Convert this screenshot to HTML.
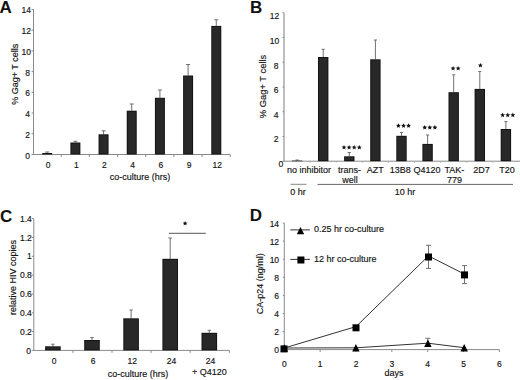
<!DOCTYPE html>
<html><head><meta charset="utf-8"><style>
html,body{margin:0;padding:0;background:#fff;}
body{width:520px;height:380px;overflow:hidden;}
svg{display:block;font-family:"Liberation Sans", sans-serif;}
</style></head><body>
<svg width="520" height="380" viewBox="0 0 520 380">
<rect width="520" height="380" fill="#fff"/>
<text x="-0.60" y="13.00" font-size="17" text-anchor="start" font-weight="bold" fill="#111">A</text>
<line x1="33.50" y1="9.46" x2="33.50" y2="154.50" stroke="#8a8a8a" stroke-width="1"/>
<line x1="31.50" y1="154.50" x2="33.50" y2="154.50" stroke="#8a8a8a" stroke-width="1"/>
<text x="29.90" y="158.50" font-size="8.5" text-anchor="end" font-weight="normal" fill="#111" stroke="#111" stroke-width="0.15">0</text>
<line x1="31.50" y1="133.78" x2="33.50" y2="133.78" stroke="#8a8a8a" stroke-width="1"/>
<text x="29.90" y="137.78" font-size="8.5" text-anchor="end" font-weight="normal" fill="#111" stroke="#111" stroke-width="0.15">2</text>
<line x1="31.50" y1="113.06" x2="33.50" y2="113.06" stroke="#8a8a8a" stroke-width="1"/>
<text x="29.90" y="117.06" font-size="8.5" text-anchor="end" font-weight="normal" fill="#111" stroke="#111" stroke-width="0.15">4</text>
<line x1="31.50" y1="92.34" x2="33.50" y2="92.34" stroke="#8a8a8a" stroke-width="1"/>
<text x="29.90" y="96.34" font-size="8.5" text-anchor="end" font-weight="normal" fill="#111" stroke="#111" stroke-width="0.15">6</text>
<line x1="31.50" y1="71.62" x2="33.50" y2="71.62" stroke="#8a8a8a" stroke-width="1"/>
<text x="29.90" y="75.62" font-size="8.5" text-anchor="end" font-weight="normal" fill="#111" stroke="#111" stroke-width="0.15">8</text>
<line x1="31.50" y1="50.90" x2="33.50" y2="50.90" stroke="#8a8a8a" stroke-width="1"/>
<text x="31.00" y="54.90" font-size="8.5" text-anchor="end" font-weight="normal" fill="#111" stroke="#111" stroke-width="0.15">10</text>
<line x1="31.50" y1="30.18" x2="33.50" y2="30.18" stroke="#8a8a8a" stroke-width="1"/>
<text x="31.00" y="34.18" font-size="8.5" text-anchor="end" font-weight="normal" fill="#111" stroke="#111" stroke-width="0.15">12</text>
<line x1="31.50" y1="9.46" x2="33.50" y2="9.46" stroke="#8a8a8a" stroke-width="1"/>
<text x="31.00" y="13.46" font-size="8.5" text-anchor="end" font-weight="normal" fill="#111" stroke="#111" stroke-width="0.15">14</text>
<line x1="33.50" y1="154.50" x2="230.26" y2="154.50" stroke="#8a8a8a" stroke-width="1"/>
<line x1="61.18" y1="154.50" x2="61.18" y2="157.00" stroke="#8a8a8a" stroke-width="1"/>
<line x1="89.36" y1="154.50" x2="89.36" y2="157.00" stroke="#8a8a8a" stroke-width="1"/>
<line x1="117.54" y1="154.50" x2="117.54" y2="157.00" stroke="#8a8a8a" stroke-width="1"/>
<line x1="145.72" y1="154.50" x2="145.72" y2="157.00" stroke="#8a8a8a" stroke-width="1"/>
<line x1="173.90" y1="154.50" x2="173.90" y2="157.00" stroke="#8a8a8a" stroke-width="1"/>
<line x1="202.08" y1="154.50" x2="202.08" y2="157.00" stroke="#8a8a8a" stroke-width="1"/>
<line x1="230.26" y1="154.50" x2="230.26" y2="157.00" stroke="#8a8a8a" stroke-width="1"/>
<line x1="47.20" y1="152.00" x2="47.20" y2="153.00" stroke="#707070" stroke-width="1"/>
<line x1="45.20" y1="152.00" x2="49.20" y2="152.00" stroke="#707070" stroke-width="1"/>
<rect x="42.20" y="153.00" width="10.00" height="1.50" fill="#141414"/>
<text x="48.10" y="168.10" font-size="8.5" text-anchor="middle" font-weight="normal" fill="#111" stroke="#111" stroke-width="0.15">0</text>
<line x1="75.38" y1="141.30" x2="75.38" y2="142.50" stroke="#707070" stroke-width="1"/>
<line x1="73.38" y1="141.30" x2="77.38" y2="141.30" stroke="#707070" stroke-width="1"/>
<rect x="70.38" y="142.50" width="10.00" height="12.00" fill="#141414"/>
<rect x="71.38" y="143.50" width="8.00" height="10.00" fill="#282828"/>
<text x="76.28" y="168.10" font-size="8.5" text-anchor="middle" font-weight="normal" fill="#111" stroke="#111" stroke-width="0.15">1</text>
<line x1="103.56" y1="130.80" x2="103.56" y2="134.30" stroke="#707070" stroke-width="1"/>
<line x1="101.56" y1="130.80" x2="105.56" y2="130.80" stroke="#707070" stroke-width="1"/>
<rect x="98.56" y="134.30" width="10.00" height="20.20" fill="#141414"/>
<rect x="99.56" y="135.30" width="8.00" height="18.20" fill="#282828"/>
<text x="104.46" y="168.10" font-size="8.5" text-anchor="middle" font-weight="normal" fill="#111" stroke="#111" stroke-width="0.15">2</text>
<line x1="131.74" y1="104.00" x2="131.74" y2="110.70" stroke="#707070" stroke-width="1"/>
<line x1="129.74" y1="104.00" x2="133.74" y2="104.00" stroke="#707070" stroke-width="1"/>
<rect x="126.74" y="110.70" width="10.00" height="43.80" fill="#141414"/>
<rect x="127.74" y="111.70" width="8.00" height="41.80" fill="#282828"/>
<text x="132.64" y="168.10" font-size="8.5" text-anchor="middle" font-weight="normal" fill="#111" stroke="#111" stroke-width="0.15">4</text>
<line x1="159.92" y1="90.00" x2="159.92" y2="97.80" stroke="#707070" stroke-width="1"/>
<line x1="157.92" y1="90.00" x2="161.92" y2="90.00" stroke="#707070" stroke-width="1"/>
<rect x="154.92" y="97.80" width="10.00" height="56.70" fill="#141414"/>
<rect x="155.92" y="98.80" width="8.00" height="54.70" fill="#282828"/>
<text x="160.82" y="168.10" font-size="8.5" text-anchor="middle" font-weight="normal" fill="#111" stroke="#111" stroke-width="0.15">6</text>
<line x1="188.10" y1="64.50" x2="188.10" y2="75.50" stroke="#707070" stroke-width="1"/>
<line x1="186.10" y1="64.50" x2="190.10" y2="64.50" stroke="#707070" stroke-width="1"/>
<rect x="183.10" y="75.50" width="10.00" height="79.00" fill="#141414"/>
<rect x="184.10" y="76.50" width="8.00" height="77.00" fill="#282828"/>
<text x="189.00" y="168.10" font-size="8.5" text-anchor="middle" font-weight="normal" fill="#111" stroke="#111" stroke-width="0.15">9</text>
<line x1="216.28" y1="19.80" x2="216.28" y2="25.90" stroke="#707070" stroke-width="1"/>
<line x1="214.28" y1="19.80" x2="218.28" y2="19.80" stroke="#707070" stroke-width="1"/>
<rect x="211.28" y="25.90" width="10.00" height="128.60" fill="#141414"/>
<rect x="212.28" y="26.90" width="8.00" height="126.60" fill="#282828"/>
<text x="217.18" y="168.10" font-size="8.5" text-anchor="middle" font-weight="normal" fill="#111" stroke="#111" stroke-width="0.15">12</text>
<text x="139.90" y="179.50" font-size="9" text-anchor="middle" font-weight="normal" fill="#111" stroke="#111" stroke-width="0.15">co-culture (hrs)</text>
<text x="18.50" y="74.30" font-size="9" text-anchor="middle" font-weight="normal" fill="#111" stroke="#111" stroke-width="0.15" transform="rotate(-90 18.50 74.30)">% Gag+ T cells</text>
<text x="250.00" y="13.20" font-size="17" text-anchor="start" font-weight="bold" fill="#111">B</text>
<line x1="284.00" y1="12.70" x2="284.00" y2="161.20" stroke="#a8a8a8" stroke-width="1.5"/>
<line x1="282.50" y1="161.20" x2="284.00" y2="161.20" stroke="#8a8a8a" stroke-width="1"/>
<text x="283.30" y="166.80" font-size="8.5" text-anchor="end" font-weight="normal" fill="#111" stroke="#111" stroke-width="0.15">0</text>
<line x1="282.50" y1="136.45" x2="284.00" y2="136.45" stroke="#8a8a8a" stroke-width="1"/>
<text x="278.60" y="142.24" font-size="8.5" text-anchor="end" font-weight="normal" fill="#111" stroke="#111" stroke-width="0.15">2</text>
<line x1="282.50" y1="111.70" x2="284.00" y2="111.70" stroke="#8a8a8a" stroke-width="1"/>
<text x="278.60" y="117.68" font-size="8.5" text-anchor="end" font-weight="normal" fill="#111" stroke="#111" stroke-width="0.15">4</text>
<line x1="282.50" y1="86.95" x2="284.00" y2="86.95" stroke="#8a8a8a" stroke-width="1"/>
<text x="278.60" y="93.12" font-size="8.5" text-anchor="end" font-weight="normal" fill="#111" stroke="#111" stroke-width="0.15">6</text>
<line x1="282.50" y1="62.20" x2="284.00" y2="62.20" stroke="#8a8a8a" stroke-width="1"/>
<text x="278.60" y="68.56" font-size="8.5" text-anchor="end" font-weight="normal" fill="#111" stroke="#111" stroke-width="0.15">8</text>
<line x1="282.50" y1="37.45" x2="284.00" y2="37.45" stroke="#8a8a8a" stroke-width="1"/>
<text x="279.30" y="44.00" font-size="8.5" text-anchor="end" font-weight="normal" fill="#111" stroke="#111" stroke-width="0.15">10</text>
<line x1="282.50" y1="12.70" x2="284.00" y2="12.70" stroke="#8a8a8a" stroke-width="1"/>
<text x="279.30" y="19.44" font-size="8.5" text-anchor="end" font-weight="normal" fill="#111" stroke="#111" stroke-width="0.15">12</text>
<line x1="284.00" y1="161.20" x2="520.00" y2="161.20" stroke="#8a8a8a" stroke-width="1"/>
<line x1="310.10" y1="161.20" x2="310.10" y2="162.70" stroke="#aaa" stroke-width="1"/>
<line x1="336.20" y1="161.20" x2="336.20" y2="162.70" stroke="#aaa" stroke-width="1"/>
<line x1="362.30" y1="161.20" x2="362.30" y2="162.70" stroke="#aaa" stroke-width="1"/>
<line x1="388.40" y1="161.20" x2="388.40" y2="162.70" stroke="#aaa" stroke-width="1"/>
<line x1="414.50" y1="161.20" x2="414.50" y2="162.70" stroke="#aaa" stroke-width="1"/>
<line x1="440.60" y1="161.20" x2="440.60" y2="162.70" stroke="#aaa" stroke-width="1"/>
<line x1="466.70" y1="161.20" x2="466.70" y2="162.70" stroke="#aaa" stroke-width="1"/>
<line x1="492.80" y1="161.20" x2="492.80" y2="162.70" stroke="#aaa" stroke-width="1"/>
<line x1="297.10" y1="160.00" x2="297.10" y2="160.60" stroke="#707070" stroke-width="1"/>
<line x1="295.50" y1="160.00" x2="298.70" y2="160.00" stroke="#707070" stroke-width="1"/>
<rect x="291.90" y="160.60" width="10.40" height="0.60" fill="#141414"/>
<line x1="323.20" y1="49.30" x2="323.20" y2="57.00" stroke="#707070" stroke-width="1"/>
<line x1="321.60" y1="49.30" x2="324.80" y2="49.30" stroke="#707070" stroke-width="1"/>
<rect x="318.00" y="57.00" width="10.40" height="104.20" fill="#141414"/>
<rect x="319.00" y="58.00" width="8.40" height="102.20" fill="#282828"/>
<line x1="349.30" y1="152.50" x2="349.30" y2="156.30" stroke="#707070" stroke-width="1"/>
<line x1="347.70" y1="152.50" x2="350.90" y2="152.50" stroke="#707070" stroke-width="1"/>
<rect x="344.10" y="156.30" width="10.40" height="4.90" fill="#141414"/>
<rect x="345.10" y="157.30" width="8.40" height="2.90" fill="#282828"/>
<line x1="375.40" y1="40.00" x2="375.40" y2="59.30" stroke="#707070" stroke-width="1"/>
<line x1="373.80" y1="40.00" x2="377.00" y2="40.00" stroke="#707070" stroke-width="1"/>
<rect x="370.20" y="59.30" width="10.40" height="101.90" fill="#141414"/>
<rect x="371.20" y="60.30" width="8.40" height="99.90" fill="#282828"/>
<line x1="401.50" y1="132.50" x2="401.50" y2="135.80" stroke="#707070" stroke-width="1"/>
<line x1="399.90" y1="132.50" x2="403.10" y2="132.50" stroke="#707070" stroke-width="1"/>
<rect x="396.30" y="135.80" width="10.40" height="25.40" fill="#141414"/>
<rect x="397.30" y="136.80" width="8.40" height="23.40" fill="#282828"/>
<line x1="427.60" y1="135.00" x2="427.60" y2="143.90" stroke="#707070" stroke-width="1"/>
<line x1="426.00" y1="135.00" x2="429.20" y2="135.00" stroke="#707070" stroke-width="1"/>
<rect x="422.40" y="143.90" width="10.40" height="17.30" fill="#141414"/>
<rect x="423.40" y="144.90" width="8.40" height="15.30" fill="#282828"/>
<line x1="453.70" y1="74.80" x2="453.70" y2="92.20" stroke="#707070" stroke-width="1"/>
<line x1="452.10" y1="74.80" x2="455.30" y2="74.80" stroke="#707070" stroke-width="1"/>
<rect x="448.50" y="92.20" width="10.40" height="69.00" fill="#141414"/>
<rect x="449.50" y="93.20" width="8.40" height="67.00" fill="#282828"/>
<line x1="479.80" y1="71.40" x2="479.80" y2="88.90" stroke="#707070" stroke-width="1"/>
<line x1="478.20" y1="71.40" x2="481.40" y2="71.40" stroke="#707070" stroke-width="1"/>
<rect x="474.60" y="88.90" width="10.40" height="72.30" fill="#141414"/>
<rect x="475.60" y="89.90" width="8.40" height="70.30" fill="#282828"/>
<line x1="505.90" y1="121.60" x2="505.90" y2="129.00" stroke="#707070" stroke-width="1"/>
<line x1="504.30" y1="121.60" x2="507.50" y2="121.60" stroke="#707070" stroke-width="1"/>
<rect x="500.70" y="129.00" width="10.40" height="32.20" fill="#141414"/>
<rect x="501.70" y="130.00" width="8.40" height="30.20" fill="#282828"/>
<polygon points="344.00,144.90 344.69,146.50 346.43,146.66 345.12,147.81 345.50,149.51 344.00,148.62 342.50,149.51 342.88,147.81 341.57,146.66 343.31,146.50" fill="#111"/>
<polygon points="349.10,144.90 349.79,146.50 351.53,146.66 350.22,147.81 350.60,149.51 349.10,148.62 347.60,149.51 347.98,147.81 346.67,146.66 348.41,146.50" fill="#111"/>
<polygon points="354.20,144.90 354.89,146.50 356.63,146.66 355.32,147.81 355.70,149.51 354.20,148.62 352.70,149.51 353.08,147.81 351.77,146.66 353.51,146.50" fill="#111"/>
<polygon points="359.30,144.90 359.99,146.50 361.73,146.66 360.42,147.81 360.80,149.51 359.30,148.62 357.80,149.51 358.18,147.81 356.87,146.66 358.61,146.50" fill="#111"/>
<polygon points="398.40,123.20 399.09,124.80 400.83,124.96 399.52,126.11 399.90,127.81 398.40,126.92 396.90,127.81 397.28,126.11 395.97,124.96 397.71,124.80" fill="#111"/>
<polygon points="403.50,123.20 404.19,124.80 405.93,124.96 404.62,126.11 405.00,127.81 403.50,126.92 402.00,127.81 402.38,126.11 401.07,124.96 402.81,124.80" fill="#111"/>
<polygon points="408.60,123.20 409.29,124.80 411.03,124.96 409.72,126.11 410.10,127.81 408.60,126.92 407.10,127.81 407.48,126.11 406.17,124.96 407.91,124.80" fill="#111"/>
<polygon points="424.70,125.00 425.39,126.60 427.13,126.76 425.82,127.91 426.20,129.61 424.70,128.72 423.20,129.61 423.58,127.91 422.27,126.76 424.01,126.60" fill="#111"/>
<polygon points="429.80,125.00 430.49,126.60 432.23,126.76 430.92,127.91 431.30,129.61 429.80,128.72 428.30,129.61 428.68,127.91 427.37,126.76 429.11,126.60" fill="#111"/>
<polygon points="434.90,125.00 435.59,126.60 437.33,126.76 436.02,127.91 436.40,129.61 434.90,128.72 433.40,129.61 433.78,127.91 432.47,126.76 434.21,126.60" fill="#111"/>
<polygon points="453.05,65.90 453.74,67.50 455.48,67.66 454.17,68.81 454.55,70.51 453.05,69.62 451.55,70.51 451.93,68.81 450.62,67.66 452.36,67.50" fill="#111"/>
<polygon points="458.15,65.90 458.84,67.50 460.58,67.66 459.27,68.81 459.65,70.51 458.15,69.62 456.65,70.51 457.03,68.81 455.72,67.66 457.46,67.50" fill="#111"/>
<polygon points="480.40,62.90 481.09,64.50 482.83,64.66 481.52,65.81 481.90,67.51 480.40,66.62 478.90,67.51 479.28,65.81 477.97,64.66 479.71,64.50" fill="#111"/>
<polygon points="502.65,112.60 503.34,114.20 505.08,114.36 503.77,115.51 504.15,117.21 502.65,116.32 501.15,117.21 501.53,115.51 500.22,114.36 501.96,114.20" fill="#111"/>
<polygon points="507.75,112.60 508.44,114.20 510.18,114.36 508.87,115.51 509.25,117.21 507.75,116.32 506.25,117.21 506.63,115.51 505.32,114.36 507.06,114.20" fill="#111"/>
<polygon points="512.85,112.60 513.54,114.20 515.28,114.36 513.97,115.51 514.35,117.21 512.85,116.32 511.35,117.21 511.73,115.51 510.42,114.36 512.16,114.20" fill="#111"/>
<text x="309.00" y="172.60" font-size="9" text-anchor="middle" font-weight="normal" fill="#111" stroke="#111" stroke-width="0.15">no inhibitor</text>
<text x="349.60" y="172.60" font-size="9" text-anchor="middle" font-weight="normal" fill="#111" stroke="#111" stroke-width="0.15">trans-</text>
<text x="350.00" y="183.00" font-size="9" text-anchor="middle" font-weight="normal" fill="#111" stroke="#111" stroke-width="0.15">well</text>
<text x="375.30" y="172.60" font-size="9" text-anchor="middle" font-weight="normal" fill="#111" stroke="#111" stroke-width="0.15">AZT</text>
<text x="400.30" y="172.60" font-size="9" text-anchor="middle" font-weight="normal" fill="#111" stroke="#111" stroke-width="0.15">13B8</text>
<text x="427.00" y="172.60" font-size="9" text-anchor="middle" font-weight="normal" fill="#111" stroke="#111" stroke-width="0.15">Q4120</text>
<text x="454.30" y="172.60" font-size="9" text-anchor="middle" font-weight="normal" fill="#111" stroke="#111" stroke-width="0.15">TAK-</text>
<text x="454.40" y="183.00" font-size="9" text-anchor="middle" font-weight="normal" fill="#111" stroke="#111" stroke-width="0.15">779</text>
<text x="481.60" y="172.60" font-size="9" text-anchor="middle" font-weight="normal" fill="#111" stroke="#111" stroke-width="0.15">2D7</text>
<text x="506.90" y="172.60" font-size="9" text-anchor="middle" font-weight="normal" fill="#111" stroke="#111" stroke-width="0.15">T20</text>
<line x1="290.50" y1="184.30" x2="306.50" y2="184.30" stroke="#888" stroke-width="1"/>
<line x1="317.50" y1="184.40" x2="513.00" y2="184.40" stroke="#666" stroke-width="1"/>
<text x="298.00" y="195.20" font-size="9" text-anchor="middle" font-weight="normal" fill="#111" stroke="#111" stroke-width="0.15">0 hr</text>
<text x="404.90" y="195.20" font-size="9" text-anchor="middle" font-weight="normal" fill="#111" stroke="#111" stroke-width="0.15">10 hr</text>
<text x="266.30" y="86.50" font-size="9.4" text-anchor="middle" font-weight="normal" fill="#111" stroke="#111" stroke-width="0.15" transform="rotate(-90 266.30 86.50)">% Gag+ T cells</text>
<text x="0.00" y="222.00" font-size="17" text-anchor="start" font-weight="bold" fill="#111">C</text>
<line x1="33.80" y1="218.70" x2="33.80" y2="350.40" stroke="#8a8a8a" stroke-width="1"/>
<line x1="31.80" y1="350.40" x2="33.80" y2="350.40" stroke="#8a8a8a" stroke-width="1"/>
<text x="31.00" y="353.50" font-size="8.5" text-anchor="end" font-weight="normal" fill="#111" stroke="#111" stroke-width="0.15">0</text>
<line x1="31.80" y1="331.59" x2="33.80" y2="331.59" stroke="#8a8a8a" stroke-width="1"/>
<text x="31.80" y="334.69" font-size="8.5" text-anchor="end" font-weight="normal" fill="#111" stroke="#111" stroke-width="0.15">0.2</text>
<line x1="31.80" y1="312.77" x2="33.80" y2="312.77" stroke="#8a8a8a" stroke-width="1"/>
<text x="31.80" y="315.87" font-size="8.5" text-anchor="end" font-weight="normal" fill="#111" stroke="#111" stroke-width="0.15">0.4</text>
<line x1="31.80" y1="293.96" x2="33.80" y2="293.96" stroke="#8a8a8a" stroke-width="1"/>
<text x="31.80" y="297.06" font-size="8.5" text-anchor="end" font-weight="normal" fill="#111" stroke="#111" stroke-width="0.15">0.6</text>
<line x1="31.80" y1="275.14" x2="33.80" y2="275.14" stroke="#8a8a8a" stroke-width="1"/>
<text x="31.80" y="278.24" font-size="8.5" text-anchor="end" font-weight="normal" fill="#111" stroke="#111" stroke-width="0.15">0.8</text>
<line x1="31.80" y1="256.33" x2="33.80" y2="256.33" stroke="#8a8a8a" stroke-width="1"/>
<text x="31.80" y="259.43" font-size="8.5" text-anchor="end" font-weight="normal" fill="#111" stroke="#111" stroke-width="0.15">1</text>
<line x1="31.80" y1="237.52" x2="33.80" y2="237.52" stroke="#8a8a8a" stroke-width="1"/>
<text x="31.80" y="240.62" font-size="8.5" text-anchor="end" font-weight="normal" fill="#111" stroke="#111" stroke-width="0.15">1.2</text>
<line x1="31.80" y1="218.70" x2="33.80" y2="218.70" stroke="#8a8a8a" stroke-width="1"/>
<text x="31.80" y="221.80" font-size="8.5" text-anchor="end" font-weight="normal" fill="#111" stroke="#111" stroke-width="0.15">1.4</text>
<line x1="33.80" y1="350.40" x2="229.30" y2="350.40" stroke="#8a8a8a" stroke-width="1"/>
<line x1="72.90" y1="350.40" x2="72.90" y2="352.90" stroke="#8a8a8a" stroke-width="1"/>
<line x1="112.00" y1="350.40" x2="112.00" y2="352.90" stroke="#8a8a8a" stroke-width="1"/>
<line x1="151.10" y1="350.40" x2="151.10" y2="352.90" stroke="#8a8a8a" stroke-width="1"/>
<line x1="190.20" y1="350.40" x2="190.20" y2="352.90" stroke="#8a8a8a" stroke-width="1"/>
<line x1="229.30" y1="350.40" x2="229.30" y2="352.90" stroke="#8a8a8a" stroke-width="1"/>
<line x1="52.90" y1="344.20" x2="52.90" y2="346.30" stroke="#707070" stroke-width="1"/>
<line x1="51.15" y1="344.20" x2="54.65" y2="344.20" stroke="#707070" stroke-width="1"/>
<rect x="45.10" y="346.30" width="15.60" height="4.10" fill="#141414"/>
<rect x="46.10" y="347.30" width="13.60" height="2.10" fill="#282828"/>
<text x="54.10" y="364.00" font-size="8.5" text-anchor="middle" font-weight="normal" fill="#111" stroke="#111" stroke-width="0.15">0</text>
<line x1="92.00" y1="337.50" x2="92.00" y2="340.00" stroke="#707070" stroke-width="1"/>
<line x1="90.25" y1="337.50" x2="93.75" y2="337.50" stroke="#707070" stroke-width="1"/>
<rect x="84.20" y="340.00" width="15.60" height="10.40" fill="#141414"/>
<rect x="85.20" y="341.00" width="13.60" height="8.40" fill="#282828"/>
<text x="93.20" y="364.00" font-size="8.5" text-anchor="middle" font-weight="normal" fill="#111" stroke="#111" stroke-width="0.15">6</text>
<line x1="131.10" y1="310.00" x2="131.10" y2="318.30" stroke="#707070" stroke-width="1"/>
<line x1="129.35" y1="310.00" x2="132.85" y2="310.00" stroke="#707070" stroke-width="1"/>
<rect x="123.30" y="318.30" width="15.60" height="32.10" fill="#141414"/>
<rect x="124.30" y="319.30" width="13.60" height="30.10" fill="#282828"/>
<text x="132.30" y="364.00" font-size="8.5" text-anchor="middle" font-weight="normal" fill="#111" stroke="#111" stroke-width="0.15">12</text>
<line x1="170.20" y1="238.00" x2="170.20" y2="258.80" stroke="#707070" stroke-width="1"/>
<line x1="168.45" y1="238.00" x2="171.95" y2="238.00" stroke="#707070" stroke-width="1"/>
<rect x="162.40" y="258.80" width="15.60" height="91.60" fill="#141414"/>
<rect x="163.40" y="259.80" width="13.60" height="89.60" fill="#282828"/>
<text x="171.40" y="364.00" font-size="8.5" text-anchor="middle" font-weight="normal" fill="#111" stroke="#111" stroke-width="0.15">24</text>
<line x1="209.30" y1="330.30" x2="209.30" y2="332.80" stroke="#707070" stroke-width="1"/>
<line x1="207.55" y1="330.30" x2="211.05" y2="330.30" stroke="#707070" stroke-width="1"/>
<rect x="201.50" y="332.80" width="15.60" height="17.60" fill="#141414"/>
<rect x="202.50" y="333.80" width="13.60" height="15.60" fill="#282828"/>
<text x="210.50" y="364.00" font-size="8.5" text-anchor="middle" font-weight="normal" fill="#111" stroke="#111" stroke-width="0.15">24</text>
<text x="209.30" y="374.50" font-size="9" text-anchor="middle" font-weight="normal" fill="#111" stroke="#111" stroke-width="0.15">+ Q4120</text>
<text x="138.00" y="377.20" font-size="9" text-anchor="middle" font-weight="normal" fill="#111" stroke="#111" stroke-width="0.15">co-culture (hrs)</text>
<text x="15.90" y="277.40" font-size="9" text-anchor="middle" font-weight="normal" fill="#111" stroke="#111" stroke-width="0.15" transform="rotate(-90 15.90 277.40)">relative HIV copies</text>
<line x1="168.80" y1="233.30" x2="205.80" y2="233.30" stroke="#555" stroke-width="1"/>
<polygon points="185.10,220.90 185.79,222.50 187.53,222.66 186.22,223.81 186.60,225.51 185.10,224.62 183.60,225.51 183.98,223.81 182.67,222.66 184.41,222.50" fill="#111"/>
<text x="249.80" y="220.90" font-size="17" text-anchor="start" font-weight="bold" fill="#111">D</text>
<line x1="284.30" y1="223.10" x2="284.30" y2="349.60" stroke="#8a8a8a" stroke-width="1"/>
<line x1="282.80" y1="349.60" x2="284.30" y2="349.60" stroke="#8a8a8a" stroke-width="1"/>
<text x="279.10" y="352.90" font-size="8.5" text-anchor="end" font-weight="normal" fill="#111" stroke="#111" stroke-width="0.15">0</text>
<line x1="282.80" y1="331.53" x2="284.30" y2="331.53" stroke="#8a8a8a" stroke-width="1"/>
<text x="279.10" y="334.91" font-size="8.5" text-anchor="end" font-weight="normal" fill="#111" stroke="#111" stroke-width="0.15">2</text>
<line x1="282.80" y1="313.46" x2="284.30" y2="313.46" stroke="#8a8a8a" stroke-width="1"/>
<text x="279.10" y="316.93" font-size="8.5" text-anchor="end" font-weight="normal" fill="#111" stroke="#111" stroke-width="0.15">4</text>
<line x1="282.80" y1="295.38" x2="284.30" y2="295.38" stroke="#8a8a8a" stroke-width="1"/>
<text x="279.10" y="298.94" font-size="8.5" text-anchor="end" font-weight="normal" fill="#111" stroke="#111" stroke-width="0.15">6</text>
<line x1="282.80" y1="277.31" x2="284.30" y2="277.31" stroke="#8a8a8a" stroke-width="1"/>
<text x="279.10" y="280.96" font-size="8.5" text-anchor="end" font-weight="normal" fill="#111" stroke="#111" stroke-width="0.15">8</text>
<line x1="282.80" y1="259.24" x2="284.30" y2="259.24" stroke="#8a8a8a" stroke-width="1"/>
<text x="279.10" y="262.97" font-size="8.5" text-anchor="end" font-weight="normal" fill="#111" stroke="#111" stroke-width="0.15">10</text>
<line x1="282.80" y1="241.17" x2="284.30" y2="241.17" stroke="#8a8a8a" stroke-width="1"/>
<text x="279.10" y="244.98" font-size="8.5" text-anchor="end" font-weight="normal" fill="#111" stroke="#111" stroke-width="0.15">12</text>
<line x1="282.80" y1="223.10" x2="284.30" y2="223.10" stroke="#8a8a8a" stroke-width="1"/>
<text x="279.10" y="227.00" font-size="8.5" text-anchor="end" font-weight="normal" fill="#111" stroke="#111" stroke-width="0.15">14</text>
<line x1="284.30" y1="349.60" x2="499.40" y2="349.60" stroke="#8a8a8a" stroke-width="1"/>
<line x1="284.30" y1="349.60" x2="284.30" y2="352.10" stroke="#8a8a8a" stroke-width="1"/>
<text x="284.30" y="366.80" font-size="8.5" text-anchor="middle" font-weight="normal" fill="#111" stroke="#111" stroke-width="0.15">0</text>
<line x1="320.15" y1="349.60" x2="320.15" y2="352.10" stroke="#8a8a8a" stroke-width="1"/>
<text x="320.15" y="366.80" font-size="8.5" text-anchor="middle" font-weight="normal" fill="#111" stroke="#111" stroke-width="0.15">1</text>
<line x1="356.00" y1="349.60" x2="356.00" y2="352.10" stroke="#8a8a8a" stroke-width="1"/>
<text x="356.00" y="366.80" font-size="8.5" text-anchor="middle" font-weight="normal" fill="#111" stroke="#111" stroke-width="0.15">2</text>
<line x1="391.85" y1="349.60" x2="391.85" y2="352.10" stroke="#8a8a8a" stroke-width="1"/>
<text x="391.85" y="366.80" font-size="8.5" text-anchor="middle" font-weight="normal" fill="#111" stroke="#111" stroke-width="0.15">3</text>
<line x1="427.70" y1="349.60" x2="427.70" y2="352.10" stroke="#8a8a8a" stroke-width="1"/>
<text x="427.70" y="366.80" font-size="8.5" text-anchor="middle" font-weight="normal" fill="#111" stroke="#111" stroke-width="0.15">4</text>
<line x1="463.55" y1="349.60" x2="463.55" y2="352.10" stroke="#8a8a8a" stroke-width="1"/>
<text x="463.55" y="366.80" font-size="8.5" text-anchor="middle" font-weight="normal" fill="#111" stroke="#111" stroke-width="0.15">5</text>
<line x1="499.40" y1="349.60" x2="499.40" y2="352.10" stroke="#8a8a8a" stroke-width="1"/>
<text x="499.40" y="366.80" font-size="8.5" text-anchor="middle" font-weight="normal" fill="#111" stroke="#111" stroke-width="0.15">6</text>
<text x="394.00" y="376.30" font-size="9" text-anchor="middle" font-weight="normal" fill="#111" stroke="#111" stroke-width="0.15">days</text>
<text x="263.50" y="283.70" font-size="9" text-anchor="middle" font-weight="normal" fill="#111" stroke="#111" stroke-width="0.15" transform="rotate(-90 263.50 283.70)">CA-p24 (ng/ml)</text>
<polyline points="284.00,348.10 356.00,326.60 428.50,255.90 464.50,274.20" fill="none" stroke="#333" stroke-width="1"/>
<polyline points="284.30,348.00 355.90,347.80 427.90,343.20 464.20,347.70" fill="none" stroke="#333" stroke-width="1"/>
<line x1="428.50" y1="245.30" x2="428.50" y2="268.40" stroke="#707070" stroke-width="1"/>
<line x1="426.00" y1="245.30" x2="431.00" y2="245.30" stroke="#707070" stroke-width="1"/>
<line x1="426.00" y1="268.40" x2="431.00" y2="268.40" stroke="#707070" stroke-width="1"/>
<line x1="464.50" y1="265.60" x2="464.50" y2="283.60" stroke="#707070" stroke-width="1"/>
<line x1="462.00" y1="265.60" x2="467.00" y2="265.60" stroke="#707070" stroke-width="1"/>
<line x1="462.00" y1="283.60" x2="467.00" y2="283.60" stroke="#707070" stroke-width="1"/>
<line x1="427.90" y1="338.30" x2="427.90" y2="346.00" stroke="#707070" stroke-width="1"/>
<line x1="425.40" y1="338.30" x2="430.40" y2="338.30" stroke="#707070" stroke-width="1"/>
<line x1="425.40" y1="346.00" x2="430.40" y2="346.00" stroke="#707070" stroke-width="1"/>
<rect x="280.50" y="345.40" width="7.00" height="7.00" fill="#000"/>
<rect x="352.50" y="324.30" width="7.00" height="7.00" fill="#000"/>
<rect x="425.00" y="253.50" width="7.00" height="7.00" fill="#000"/>
<rect x="461.00" y="271.40" width="7.00" height="7.00" fill="#000"/>
<polygon points="284.30,344.30 288.00,351.70 280.60,351.70" fill="#000"/>
<polygon points="355.90,344.10 359.60,351.50 352.20,351.50" fill="#000"/>
<polygon points="427.90,339.50 431.60,346.90 424.20,346.90" fill="#000"/>
<polygon points="464.20,344.00 467.90,351.40 460.50,351.40" fill="#000"/>
<line x1="290.30" y1="229.90" x2="309.90" y2="229.90" stroke="#333" stroke-width="1"/>
<polygon points="300.50,226.90 304.20,234.30 296.80,234.30" fill="#000"/>
<text x="314.00" y="232.30" font-size="9" text-anchor="start" font-weight="normal" fill="#111" stroke="#111" stroke-width="0.15">0.25 hr co-culture</text>
<line x1="290.30" y1="259.40" x2="309.90" y2="259.40" stroke="#333" stroke-width="1"/>
<rect x="297.40" y="256.50" width="7.00" height="7.00" fill="#000"/>
<text x="314.00" y="261.80" font-size="9" text-anchor="start" font-weight="normal" fill="#111" stroke="#111" stroke-width="0.15">12 hr co-culture</text>
</svg>
</body></html>
